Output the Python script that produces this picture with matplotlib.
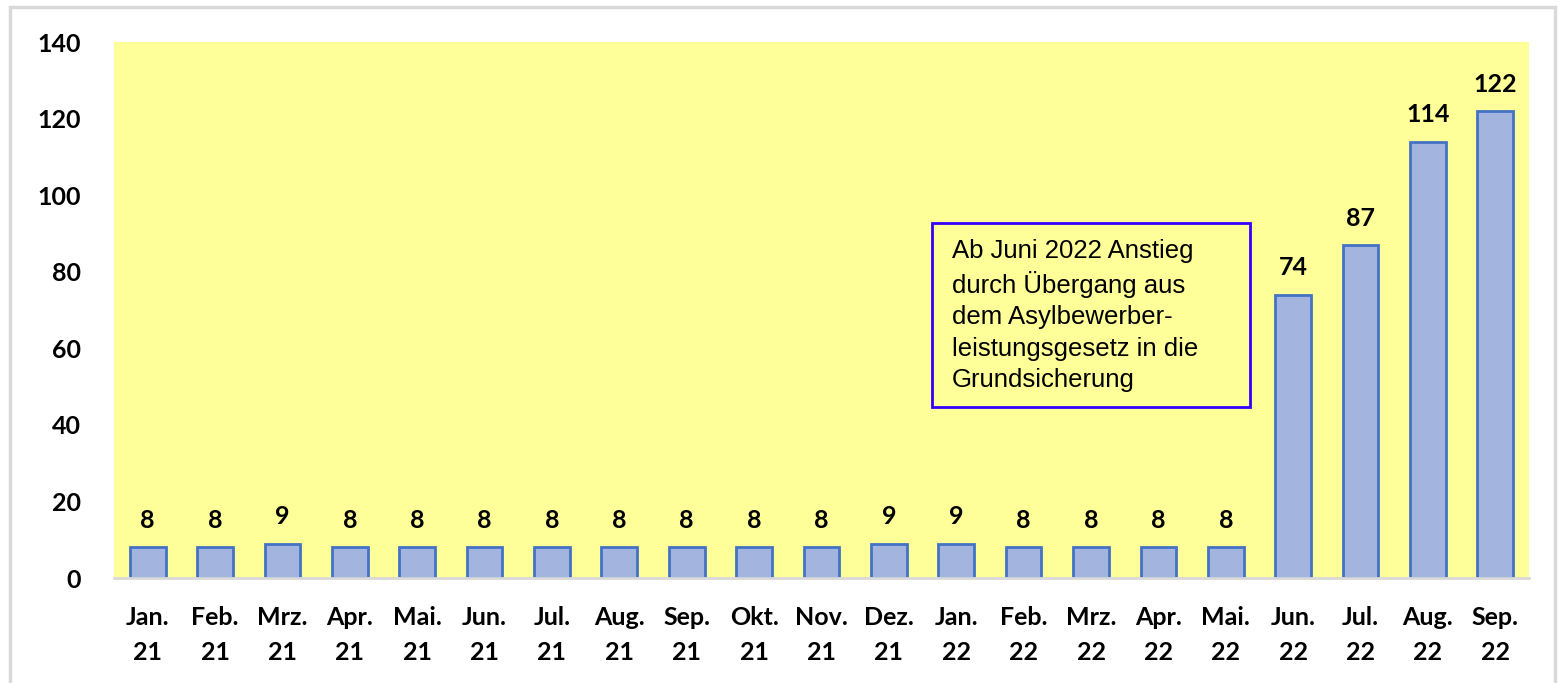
import matplotlib.pyplot as plt
from matplotlib.patches import Rectangle

# Daten
monate = ["Jan.\n21", "Feb.\n21", "Mrz.\n21", "Apr.\n21", "Mai.\n21", "Jun.\n21",
          "Jul.\n21", "Aug.\n21", "Sep.\n21", "Okt.\n21", "Nov.\n21", "Dez.\n21",
          "Jan.\n22", "Feb.\n22", "Mrz.\n22", "Apr.\n22", "Mai.\n22", "Jun.\n22",
          "Jul.\n22", "Aug.\n22", "Sep.\n22"]
werte = [8, 8, 9, 8, 8, 8, 8, 8, 8, 8, 8, 9, 9, 8, 8, 8, 8, 74, 87, 114, 122]
y_ticks = [0, 20, 40, 60, 80, 100, 120, 140]
hinweis = ("Ab Juni 2022 Anstieg\ndurch Übergang aus\ndem Asylbewerber-\n"
           "leistungsgesetz in die\nGrundsicherung")

fig = plt.figure(figsize=(15.64, 6.83), dpi=100)
ax = fig.add_axes([0.0729, 0.1537, 0.9047, 0.7848])
ax.set_facecolor('#ffff99')

# Rahmen um die ganze Grafik
fig.patches.append(Rectangle((0.0065, -0.05), 0.9875, 1.04, transform=fig.transFigure,
                             fill=False, edgecolor='#d9d9d9', linewidth=2.5))

x = list(range(len(werte)))
balken = ax.bar(x, werte, width=0.53, color='#a3b4df', edgecolor='#4472c4', linewidth=2)
ax.bar_label(balken, padding=11, fontsize=18, fontweight='bold', family='Lato')

ax.set_xlim(-0.5, len(werte) - 0.5)
ax.set_ylim(0, 140)
ax.set_yticks(y_ticks)
ax.set_xticks(x)
ax.set_xticklabels(monate, linespacing=1.65)
for lbl in ax.get_xticklabels() + ax.get_yticklabels():
    lbl.set_fontsize(18)
    lbl.set_fontweight('bold')
    lbl.set_family('Lato')
ax.tick_params(axis='both', length=0)
ax.tick_params(axis='y', pad=24)
ax.tick_params(axis='x', pad=20)

for s in ['top', 'right', 'left']:
    ax.spines[s].set_visible(False)
ax.spines['bottom'].set_color('#d9d9d9')
ax.spines['bottom'].set_linewidth(2)

# Hinweisbox
ax.add_patch(Rectangle((11.64, 44.7), 4.72, 48.0, facecolor='#ffff99',
                       edgecolor='#3300ff', linewidth=2, zorder=3))
ax.text(11.94, 88.6, hinweis, fontsize=18.5, family='Liberation Sans', va='top', ha='left',
        linespacing=1.38, zorder=4)

plt.savefig('out.png', dpi=100)
